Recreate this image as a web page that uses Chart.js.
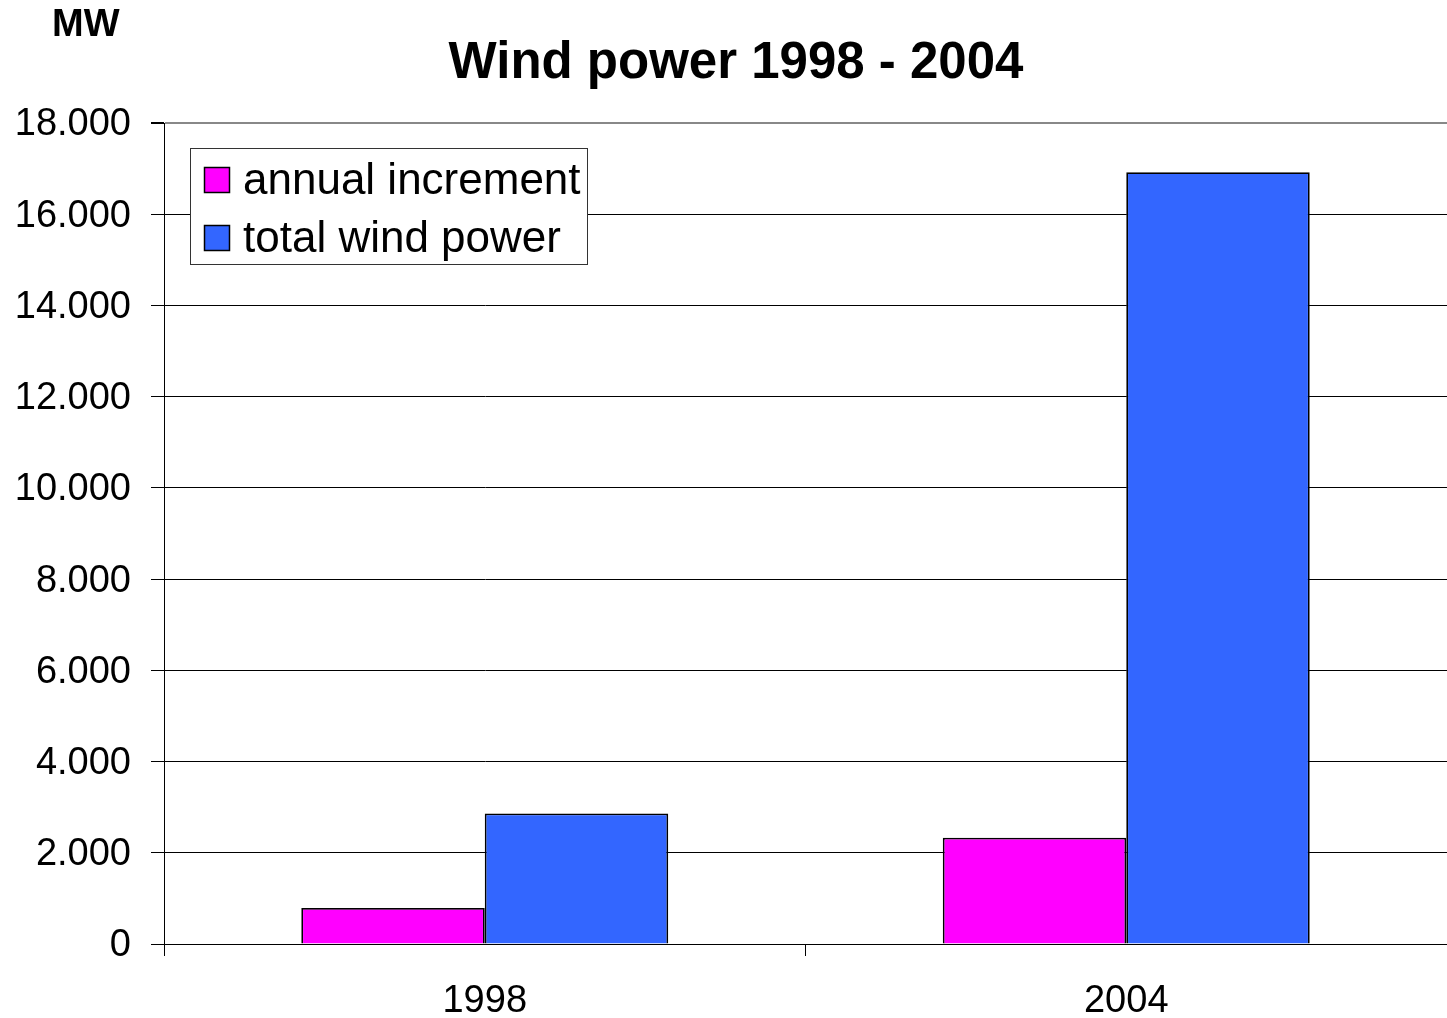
<!DOCTYPE html>
<html><head><meta charset="utf-8">
<script src="https://cdn.jsdelivr.net/npm/chart.js@4.4.1/dist/chart.umd.min.js"></script>
<style>html,body{margin:0;padding:0;background:#fff;overflow:hidden}#wrap{width:1447px;height:1018px}</style>
</head><body><div id="wrap"><canvas id="c" width="1447" height="1018"></canvas></div>
<script>
const categories = ['1998', '2004'];
const seriesNames = ['annual increment', 'total wind power'];
const annualIncrement = [790, 2330];
const totalWindPower = [2860, 16920];
const yTickValues = [0, 2000, 4000, 6000, 8000, 10000, 12000, 14000, 16000, 18000];
const yTickLabels = ['0', '2.000', '4.000', '6.000', '8.000', '10.000', '12.000', '14.000', '16.000', '18.000'];
const titleText = 'Wind power 1998 - 2004';
const unitText = 'MW';
const seriesColors = ['#FF00FF', '#3366FF'];

const FONT = "'Liberation Sans', Arial, sans-serif";

const extrasPlugin = {
  id: 'extras',
  afterDraw(chart) {
    const ctx = chart.ctx;
    ctx.save();
    // unit label
    ctx.fillStyle = '#000';
    ctx.font = 'bold 38px ' + FONT;
    ctx.textBaseline = 'alphabetic';
    ctx.textAlign = 'left';
    ctx.fillText(unitText, 52, 36);
    // title
    ctx.font = 'bold 51px ' + FONT;
    ctx.textAlign = 'center';
    ctx.fillText(titleText, 736, 78);
    ctx.textAlign = 'left';
    // legend box
    ctx.fillStyle = '#fff';
    ctx.fillRect(190.5, 148.5, 397, 116);
    ctx.strokeStyle = '#333';
    ctx.lineWidth = 1;
    ctx.strokeRect(190.5, 148.5, 397, 116);
    chart.data.datasets.forEach((ds, i) => {
      const rowBase = 194 + 58 * i;
      ctx.fillStyle = ds.backgroundColor;
      ctx.fillRect(204.5, rowBase - 26.5, 25, 25);
      ctx.strokeStyle = '#000';
      ctx.lineWidth = 1.5;
      ctx.strokeRect(204.5, rowBase - 26.5, 25, 25);
      ctx.fillStyle = '#000';
      ctx.font = '44px ' + FONT;
      ctx.fillText(ds.label, 243, rowBase);
    });
    ctx.restore();
  }
};

new Chart(document.getElementById('c'), {
  type: 'bar',
  data: {
    labels: categories,
    datasets: [
      { label: seriesNames[0], data: annualIncrement, backgroundColor: seriesColors[0], borderColor: '#000', borderWidth: 1.8 },
      { label: seriesNames[1], data: totalWindPower, backgroundColor: seriesColors[1], borderColor: '#000', borderWidth: 1.8 }
    ]
  },
  options: {
    responsive: false,
    animation: false,
    devicePixelRatio: 1,
    layout: { padding: { top: 123, left: 0, right: 0, bottom: 0 } },
    datasets: { bar: { categoryPercentage: 0.572, barPercentage: 1.0 } },
    plugins: {
      legend: { display: false },
      tooltip: { enabled: false },
      title: { display: false }
    },
    scales: {
      x: {
        offset: true,
        grid: { display: true, drawOnChartArea: false, drawTicks: true, tickLength: 12, color: '#000', offset: true },
        border: { display: true, color: '#000', width: 1 },
        ticks: { color: '#000', font: { family: FONT, size: 38 }, padding: 23, maxRotation: 0 },
        afterFit(scale) { scale.height = 74; }
      },
      y: {
        min: 0,
        max: 18000,
        afterBuildTicks(scale) { scale.ticks = yTickValues.map(v => ({ value: v })); },
        grid: {
          color: (c) => (c.tick && c.tick.value === 18000) ? '#888' : '#000',
          lineWidth: (c) => (c.tick && c.tick.value === 18000) ? 2 : 1,
          tickColor: '#000',
          tickLength: 13,
          drawTicks: true
        },
        border: { display: true, color: '#000', width: 1 },
        ticks: {
          color: '#000',
          font: { family: FONT, size: 38 },
          padding: 20,
          labelOffset: 2,
          callback: (value) => { const i = yTickValues.indexOf(value); return i >= 0 ? yTickLabels[i] : ''; }
        },
        afterFit(scale) { scale.width = 164; }
      }
    }
  },
  plugins: [extrasPlugin]
});
</script>
</body></html>
